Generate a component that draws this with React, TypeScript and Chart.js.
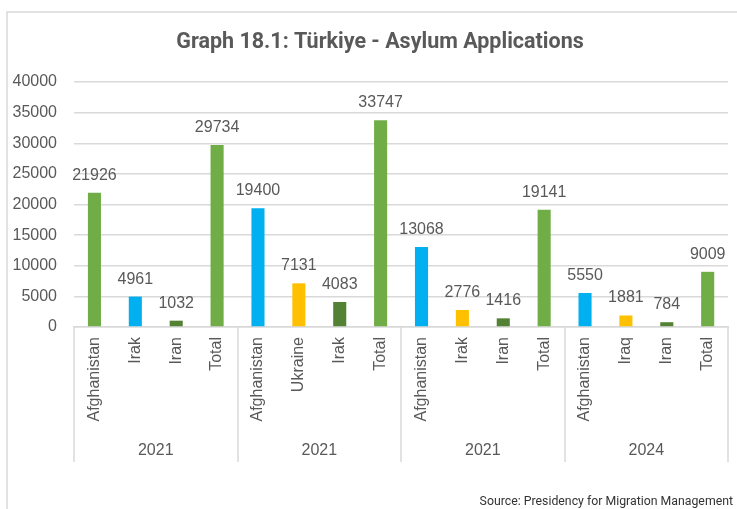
import React, { useEffect, useRef } from "react";
import { Chart, registerables } from "chart.js";

Chart.register(...registerables);

const chartTitle = "Graph 18.1: Türkiye - Asylum Applications";
const sourceNote = "Source: Presidency for Migration Management";

const years = ["2021", "2021", "2021", "2024"];
const groupSizes = [4, 4, 4, 4];
const countries = [
  "Afghanistan", "Irak", "Iran", "Total",
  "Afghanistan", "Ukraine", "Irak", "Total",
  "Afghanistan", "Irak", "Iran", "Total",
  "Afghanistan", "Iraq", "Iran", "Total",
];
const applications = [
  21926, 4961, 1032, 29734,
  19400, 7131, 4083, 33747,
  13068, 2776, 1416, 19141,
  5550, 1881, 784, 9009,
];

const GREEN = "#70AD47";
const BLUE = "#00B0F0";
const YELLOW = "#FFC000";
const DARK = "#548235";
const barColors = [
  GREEN, BLUE, DARK, GREEN,
  BLUE, YELLOW, DARK, GREEN,
  BLUE, YELLOW, DARK, GREEN,
  BLUE, YELLOW, DARK, GREEN,
];

const yMin = 0;
const yMax = 40000;
const yStep = 5000;

const TEXT = "#595959";
const LINE = "#d9d9d9";
const BASE_FONT = "'Liberation Sans', Arial, sans-serif";

const decorPlugin = {
  id: "decor",
  beforeDraw(chart: any) {
    const ctx = chart.ctx;
    ctx.save();
    // outer frame
    ctx.strokeStyle = LINE;
    ctx.lineWidth = 1.5;
    ctx.strokeRect(7, 12, 760, 520);
    // title
    ctx.fillStyle = TEXT;
    ctx.font = "bold 21.5px Roboto, sans-serif";
    ctx.textAlign = "center";
    ctx.textBaseline = "alphabetic";
    ctx.fillText(chartTitle, 380, 48);
    // source
    ctx.fillStyle = "#333333";
    ctx.font = "12.3px Roboto, sans-serif";
    ctx.textAlign = "right";
    ctx.fillText(sourceNote, 733, 505);
    ctx.restore();
  },
  afterDatasetsDraw(chart: any) {
    const ctx = chart.ctx;
    const meta = chart.getDatasetMeta(0);
    ctx.save();
    ctx.fillStyle = TEXT;
    ctx.font = "16px " + BASE_FONT;
    ctx.textAlign = "center";
    ctx.textBaseline = "alphabetic";
    meta.data.forEach((bar: any, i: number) => {
      ctx.fillText(String(applications[i]), bar.x, bar.y - 13);
    });
    ctx.restore();
  },
  afterDraw(chart: any) {
    const ctx = chart.ctx;
    const xs = chart.scales.x;
    const top = xs.top;
    const bottom = xs.bottom;
    ctx.save();
    ctx.strokeStyle = LINE;
    ctx.lineWidth = 1.5;
    const half = (xs.getPixelForValue(1) - xs.getPixelForValue(0)) / 2;
    let start = 0;
    const bounds: number[] = [xs.getPixelForValue(0) - half];
    groupSizes.forEach((n) => {
      start += n;
      bounds.push(xs.getPixelForValue(start - 1) + half);
    });
    bounds.forEach((bx) => {
      ctx.beginPath();
      ctx.moveTo(Math.round(bx), top);
      ctx.lineTo(Math.round(bx), bottom);
      ctx.stroke();
    });
    ctx.fillStyle = TEXT;
    ctx.font = "16px " + BASE_FONT;
    ctx.textAlign = "center";
    ctx.textBaseline = "middle";
    years.forEach((yr, g) => {
      ctx.fillText(yr, (bounds[g] + bounds[g + 1]) / 2, 451);
    });
    ctx.restore();
  },
};

export default function App() {
  const ref = useRef<HTMLCanvasElement | null>(null);
  useEffect(() => {
    if (!ref.current) return;
    Chart.defaults.font.family = BASE_FONT;
    const chart = new Chart(ref.current, {
      type: "bar",
      data: {
        labels: countries,
        datasets: [
          {
            data: applications,
            backgroundColor: barColors,
            borderWidth: 0,
            barPercentage: 0.32,
            categoryPercentage: 1,
          },
        ],
      },
      options: {
        animation: false,
        responsive: false,
        devicePixelRatio: 1,
        layout: { padding: { left: 0, right: 4, top: 82, bottom: 47 } },
        plugins: {
          legend: { display: false },
          tooltip: { enabled: false },
          title: { display: false },
        },
        scales: {
          x: {
            type: "category",
            offset: true,
            grid: { display: false, drawTicks: false },
            border: { display: true, color: LINE, width: 1.5 },
            ticks: {
              autoSkip: false,
              minRotation: 90,
              maxRotation: 90,
              padding: 10,
              color: TEXT,
              font: { size: 16, family: BASE_FONT },
            },
            afterFit: (scale: any) => {
              scale.height = 135;
            },
          },
          y: {
            min: yMin,
            max: yMax,
            grid: { color: LINE, lineWidth: 1.5, drawTicks: false },
            border: { display: false },
            ticks: {
              stepSize: yStep,
              padding: 17,
              color: TEXT,
              font: { size: 16, family: BASE_FONT },
              callback: (v: any) => String(v),
            },
            afterFit: (scale: any) => {
              scale.width = 74;
            },
          },
        },
      },
      plugins: [decorPlugin],
    });
    return () => chart.destroy();
  }, []);
  return (
    <div style={{ position: "fixed", left: 0, top: 0, width: 737, height: 509, background: "#fff" }}>
      <canvas ref={ref} width={737} height={509} style={{ display: "block" }} />
    </div>
  );
}
